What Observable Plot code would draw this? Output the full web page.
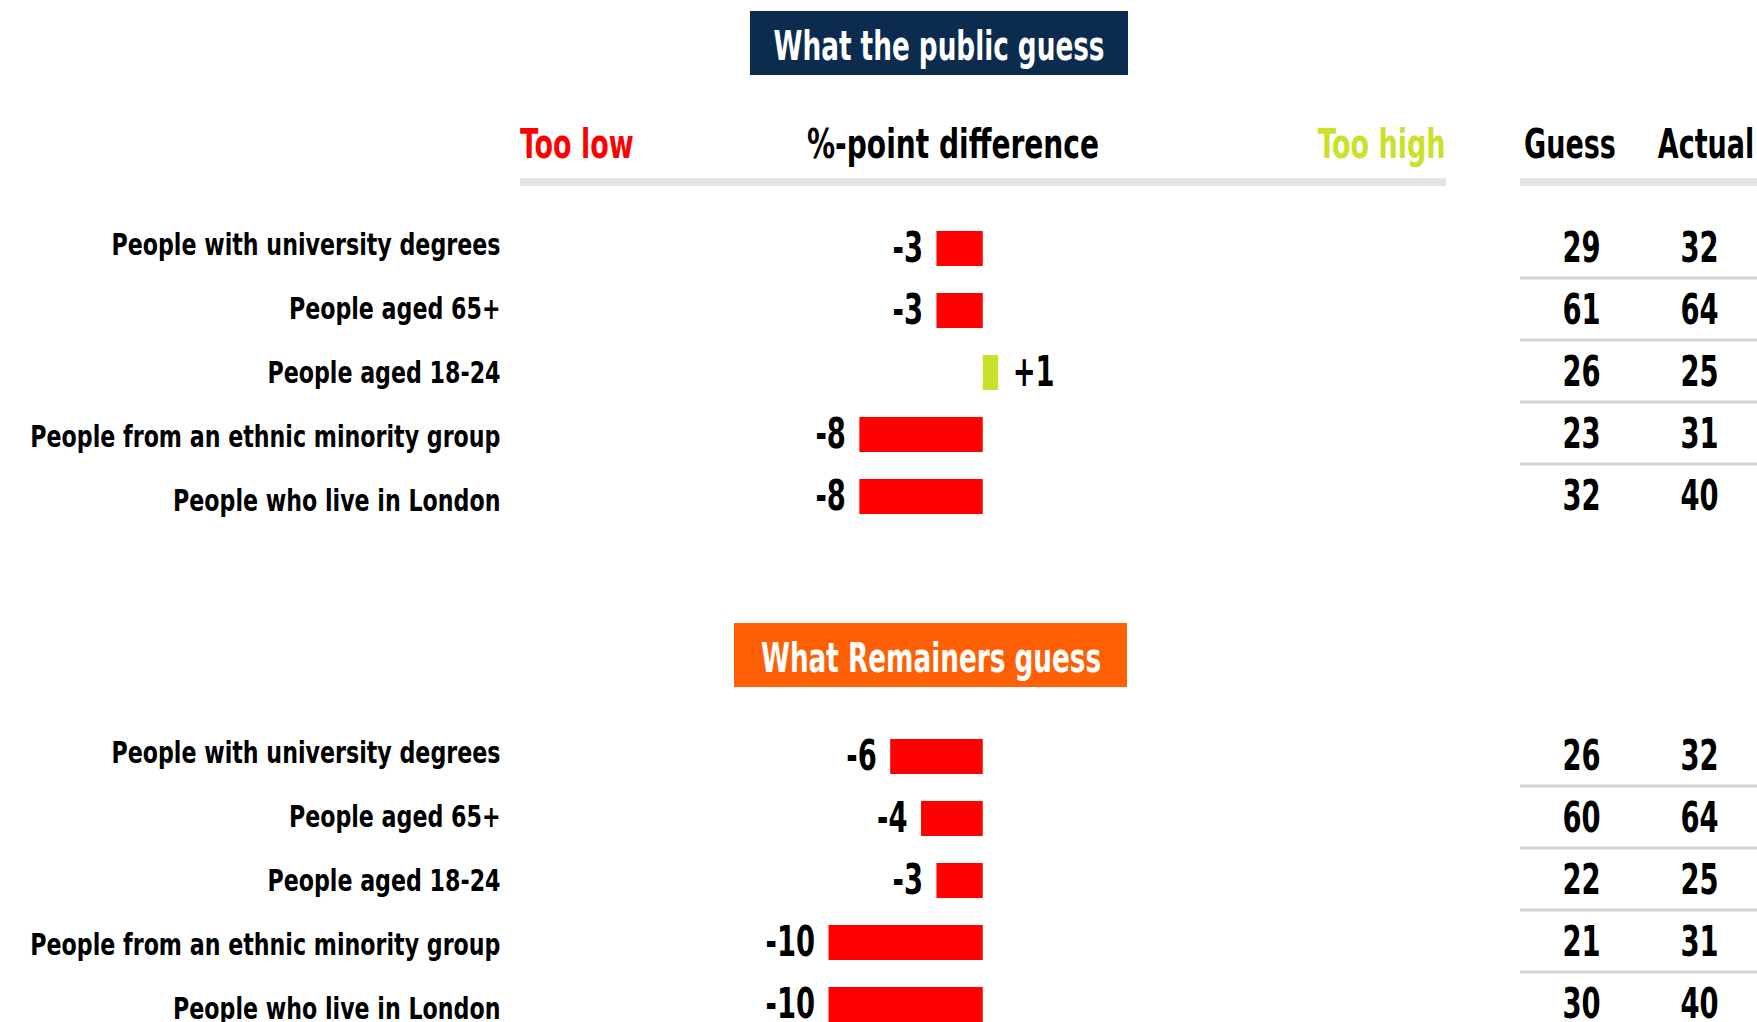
<!DOCTYPE html>
<html>
<head>
<meta charset="utf-8">
<script src="https://cdn.jsdelivr.net/npm/d3@7"></script>
<script src="https://cdn.jsdelivr.net/npm/@observablehq/plot@0.6"></script>
<style>
html, body { margin: 0; padding: 0; background: #fff; overflow: hidden; }
body { width: 1757px; height: 1022px; position: relative;
  font-family: "DejaVu Sans Condensed", "DejaVu Sans", sans-serif; font-weight: 700; color: #000; }
.abs { position: absolute; white-space: nowrap; line-height: 1; }
.box { position: absolute; }
.box span { position: absolute; left: 50%; color: #fff; font-size: 40px; line-height: 1; white-space: nowrap; transform-origin: center; }
.hdr { font-size: 40px; }
.rule { position: absolute; height: 8px; background: #e4e4e4; }
svg { position: absolute; overflow: visible; }
</style>
</head>
<body>
<script>
// ---------- data ----------
const categories = [
  "People with university degrees",
  "People aged 65+",
  "People aged 18-24",
  "People from an ethnic minority group",
  "People who live in London"
];
const publicDiff = [-3, -3, 1, -8, -8];
const publicGuess = [29, 61, 26, 23, 32];
const remainDiff = [-6, -4, -3, -10, -10];
const remainGuess = [26, 60, 22, 21, 30];
const actualValues = [32, 64, 25, 31, 40];
const columns = ["Guess", "Actual"];
const panelTitles = ["What the public guess", "What Remainers guess"];
const headerLow = "Too low";
const headerMid = "%-point difference";
const headerHigh = "Too high";

// ---------- style ----------
const FONT = '"DejaVu Sans Condensed", "DejaVu Sans", sans-serif';
const RED = "#ff0000";
const GREEN = "#c9e12b";
const NAVY = "#0b2b4f";
const ORANGE = "#ff5f05";
const STEP = 62.3;        // row step of bars / table
const LABEL_STEP = 65.5;  // row step of the category labels
const K_NUM = 0.725, K_LABEL = 0.795, K_HDR = 0.75, K_MID = 0.78, K_TITLE = 0.73;

function el(tag, cls, css, text) {
  const e = document.createElement(tag);
  if (cls) e.className = cls;
  Object.assign(e.style, css);
  if (text != null) e.textContent = text;
  document.body.appendChild(e);
  return e;
}

// horizontally condense SVG text around its anchor point
function squeeze(svg, k) {
  svg.querySelectorAll("text").forEach(t => {
    const bb = t.getBBox();
    if (!bb.width) return;
    const anchor = getComputedStyle(t).textAnchor;
    const ax = anchor === "end" ? bb.x + bb.width : anchor === "middle" ? bb.x + bb.width / 2 : bb.x;
    const tr = t.getAttribute("transform") || "";
    t.setAttribute("transform", `${tr} translate(${ax},0) scale(${k},1) translate(${-ax},0)`);
  });
}

function place(svg, left, top) {
  svg.style.left = left + "px";
  svg.style.top = top + "px";
  document.body.appendChild(svg);
}

function titleBox(text, bg, left, top, width) {
  const b = el("div", "box", {left: left + "px", top: top + "px", width: width + "px", height: "64px", background: bg});
  const s = document.createElement("span");
  s.textContent = text;
  s.style.top = "15px";
  s.style.transform = `translateX(-50%) scaleX(${K_TITLE})`;
  b.appendChild(s);
}

const baseStyle = {fontFamily: FONT, fontWeight: 700, background: "transparent", color: "#000", overflow: "visible"};

function labelPlot(firstCenter) {
  const mt = 10, mb = 10;
  const svg = Plot.plot({
    width: 520,
    height: mt + mb + LABEL_STEP * categories.length,
    marginLeft: 0, marginRight: 20, marginTop: mt, marginBottom: mb,
    y: {domain: categories, type: "band", axis: null},
    style: baseStyle,
    marks: [
      Plot.text(categories, {y: d => d, text: d => d, frameAnchor: "right", textAnchor: "end",
        fontSize: 31, fontWeight: 700})
    ]
  });
  place(svg, 0, firstCenter - LABEL_STEP / 2 - mt);
  squeeze(svg, K_LABEL);
}

function barPlot(diffs, firstCenter) {
  const data = categories.map((c, i) => ({cat: c, diff: diffs[i]}));
  const mt = 10, mb = 10;
  const svg = Plot.plot({
    width: 1470,
    height: mt + mb + STEP * categories.length,
    marginLeft: 520, marginRight: 24.5, marginTop: mt, marginBottom: mb,
    x: {domain: [-30, 30], axis: null},
    y: {domain: categories, type: "band", paddingInner: 0.44, paddingOuter: 0.22, axis: null},
    style: baseStyle,
    marks: [
      Plot.barX(data.filter(d => d.diff < 0), {x: "diff", y: "cat", fill: RED}),
      Plot.barX(data.filter(d => d.diff > 0), {x: "diff", y: "cat", fill: GREEN}),
      Plot.text(data.filter(d => d.diff < 0), {x: "diff", y: "cat", text: d => "-" + Math.abs(d.diff),
        textAnchor: "end", dx: -14, fontSize: 42, fontWeight: 700}),
      Plot.text(data.filter(d => d.diff > 0), {x: "diff", y: "cat", text: d => "+" + d.diff,
        textAnchor: "start", dx: 14, fontSize: 42, fontWeight: 700})
    ]
  });
  place(svg, 0, firstCenter - STEP / 2 - mt);
  squeeze(svg, K_NUM);
}

function tablePlot(guesses, firstCenter) {
  const rows = categories.map((c, i) => ({cat: c, Guess: guesses[i], Actual: actualValues[i]}));
  const cells = rows.flatMap(r => columns.map(k => ({cat: r.cat, col: k, v: r[k]})));
  const mt = 10, mb = 10;
  const svg = Plot.plot({
    width: 257,
    height: mt + mb + STEP * categories.length,
    marginLeft: 20, marginRight: 0, marginTop: mt, marginBottom: mb,
    x: {type: "point", domain: columns, range: [80.5, 198.7], padding: 0, axis: null},
    y: {domain: categories, type: "band", paddingInner: 0.44, paddingOuter: 0.22, axis: null},
    style: baseStyle,
    marks: [
      Plot.ruleY(rows.slice(0, -1), {y: "cat", dy: 29, stroke: "#d3d3d3", strokeWidth: 3}),
      Plot.text(cells, {x: "col", y: "cat", text: "v", fontSize: 42, fontWeight: 700})
    ]
  });
  place(svg, 1500, firstCenter - STEP / 2 - mt);
  squeeze(svg, K_NUM);
}

function panel(diffs, guesses, firstCenter) {
  labelPlot(firstCenter - 6.6);
  barPlot(diffs, firstCenter);
  tablePlot(guesses, firstCenter);
}

// ---------- panel 1 ----------
titleBox(panelTitles[0], NAVY, 750, 11, 378);
el("div", "abs hdr", {left: "520px", top: "124px", color: RED, transformOrigin: "left", transform: `scaleX(${K_HDR})`}, headerLow);
el("div", "abs hdr", {left: "953px", top: "124px", transformOrigin: "center", transform: `translateX(-50%) scaleX(${K_MID})`}, headerMid);
el("div", "abs hdr", {right: (1757 - 1445.5) + "px", top: "124px", color: GREEN, transformOrigin: "right", transform: `scaleX(${K_HDR})`}, headerHigh);
el("div", "abs hdr", {left: "1570px", top: "124px", transformOrigin: "center", transform: `translateX(-50%) scaleX(${K_HDR})`}, columns[0]);
el("div", "abs hdr", {left: "1706px", top: "124px", transformOrigin: "center", transform: `translateX(-50%) scaleX(${K_HDR})`}, columns[1]);
el("div", "rule", {left: "520px", top: "178px", width: (1445.5 - 520) + "px"});
el("div", "rule", {left: "1520px", top: "178px", width: (1757 - 1520) + "px"});
panel(publicDiff, publicGuess, 248);

// ---------- panel 2 ----------
titleBox(panelTitles[1], ORANGE, 734, 623, 393);
panel(remainDiff, remainGuess, 756.3);
</script>
</body>
</html>
